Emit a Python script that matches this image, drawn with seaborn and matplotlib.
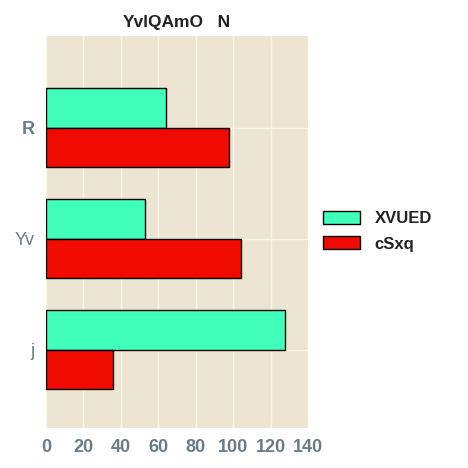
import matplotlib
matplotlib.use("Agg")
import matplotlib.pyplot as plt
import seaborn as sns
import pandas as pd

categories = ["R", "Yv", "j"]
series_names = ["XVUED", "cSxq"]
xvued_values = [64, 53, 128]
csxq_values = [98, 104, 36]
x_ticks = [0, 20, 40, 60, 80, 100, 120, 140]
title = "YvlQAmO   N"

df = pd.DataFrame({
    "cat": categories * 2,
    "series": [series_names[0]] * 3 + [series_names[1]] * 3,
    "value": xvued_values + csxq_values,
})

sns.set_theme(style="darkgrid")
plt.rcParams["font.family"] = ["Liberation Sans", "DejaVu Sans"]

fig = plt.figure(figsize=(4.68, 4.68), dpi=100)
ax = fig.add_axes([0.0983, 0.0861, 0.5597, 0.8380])
ax.set_facecolor("#ede5d3")
palette = {"XVUED": "#40ffbb", "cSxq": "#f00a00"}
sns.barplot(data=df, x="value", y="cat", hue="series", order=categories,
            hue_order=series_names, palette=palette, width=0.71, orient="h",
            edgecolor="black", linewidth=1.0, saturation=1, ax=ax)

ax.grid(True, color="#fbf5e4", linewidth=1.0)
ax.set_axisbelow(True)
for s in ax.spines.values():
    s.set_visible(False)
ax.set_xlim(0, 140)
ax.set_ylim(2.7, -0.83)
ax.set_xticks(x_ticks)
ax.set_xticklabels([str(t) for t in x_ticks], fontsize=13, fontweight="bold", color="#6b7c86")
ax.set_yticks(range(len(categories)))
ax.set_yticklabels(categories, fontsize=13, color="#6b7c86")
ax.get_yticklabels()[0].set_fontweight("bold")
ax.tick_params(axis="both", length=0, pad=8)
ax.set_xlabel("")
ax.set_ylabel("")
ax.set_title(title, fontsize=12.5, fontweight="bold", color="#222222", pad=6)

handles, labels = ax.get_legend_handles_labels()
ax.legend(handles, labels, loc="center left", bbox_to_anchor=(0.658, 0.506),
          bbox_transform=fig.transFigure, frameon=False,
          prop={"weight": "bold", "size": 12}, labelcolor="#222222",
          handlelength=2.2, handleheight=0.85, handletextpad=0.9, labelspacing=0.6)

fig.savefig("out.png", dpi=100)
